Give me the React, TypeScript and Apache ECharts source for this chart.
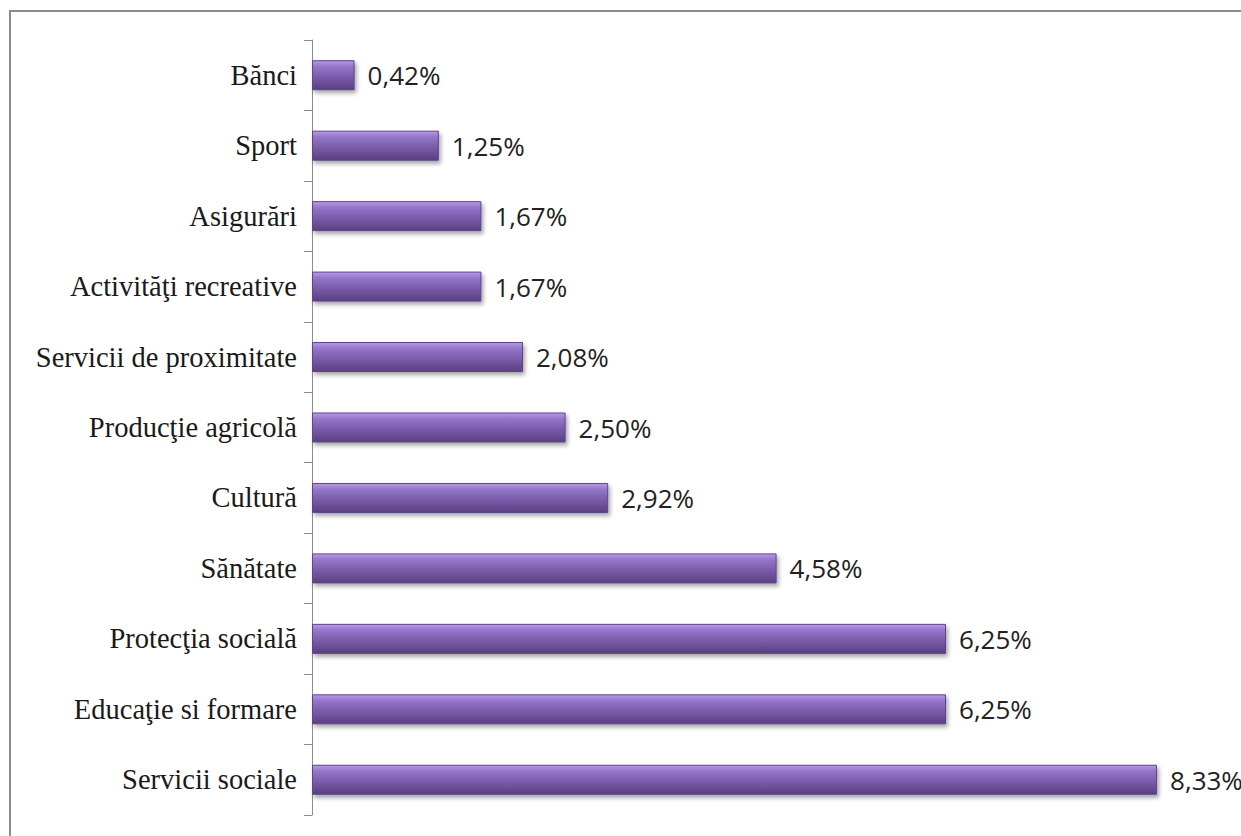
import React, { useEffect, useRef } from "react";
import * as echarts from "echarts";

const categories = [
  "Servicii sociale",
  "Educaţie si formare",
  "Protecţia socială",
  "Sănătate",
  "Cultură",
  "Producţie agricolă",
  "Servicii de proximitate",
  "Activităţi recreative",
  "Asigurări",
  "Sport",
  "Bănci",
];
const values = [8.33, 6.25, 6.25, 4.58, 2.92, 2.5, 2.08, 1.67, 1.67, 1.25, 0.42];

export default function App() {
  const ref = useRef<HTMLDivElement>(null);
  useEffect(() => {
    const chart = echarts.init(ref.current!, null, { renderer: "svg" });
    chart.setOption({
      animation: false,
      backgroundColor: "#ffffff",
      graphic: [
        {
          type: "rect",
          shape: { x: 10, y: 11, width: 1250, height: 850 },
          style: { fill: "none", stroke: "#8c8c8c", lineWidth: 2 },
          silent: true,
        },
      ],
      grid: { left: 312, top: 40, width: 913, bottom: 21, containLabel: false },
      xAxis: {
        type: "value",
        min: 0,
        max: 9,
        show: false,
      },
      yAxis: {
        type: "category",
        data: categories,
        axisLine: { show: true, lineStyle: { color: "#8c8c8c", width: 1 } },
        axisTick: { show: true, length: 8, lineStyle: { color: "#8c8c8c" } },
        axisLabel: {
          margin: 15,
          fontFamily: "Liberation Serif, serif",
          fontSize: 28.5,
          color: "#1a1a1a",
        },
      },
      series: [
        {
          type: "bar",
          data: values,
          barWidth: 30,
          itemStyle: {
            color: new echarts.graphic.LinearGradient(0, 0, 0, 1, [
              { offset: 0, color: "#b99ae8" },
              { offset: 0.2, color: "#9476ca" },
              { offset: 0.55, color: "#7b5cab" },
              { offset: 1, color: "#5a3f82" },
            ]),
            borderColor: "#5d4488",
            borderWidth: 1,
            shadowColor: "rgba(0,0,0,0.35)",
            shadowBlur: 4,
            shadowOffsetX: 2,
            shadowOffsetY: 3,
          },
          label: {
            show: true,
            position: "right",
            distance: 13,
            formatter: (p: any) => p.value.toFixed(2).replace(".", ",") + "%",
            fontFamily: "Open Sans, Noto Sans, sans-serif",
            fontSize: 26,
            color: "#222",
          },
        },
      ],
    });
    return () => chart.dispose();
  }, []);
  return (
    <div
      ref={ref}
      style={{ position: "fixed", left: 0, top: 0, width: 1241, height: 836 }}
    />
  );
}
